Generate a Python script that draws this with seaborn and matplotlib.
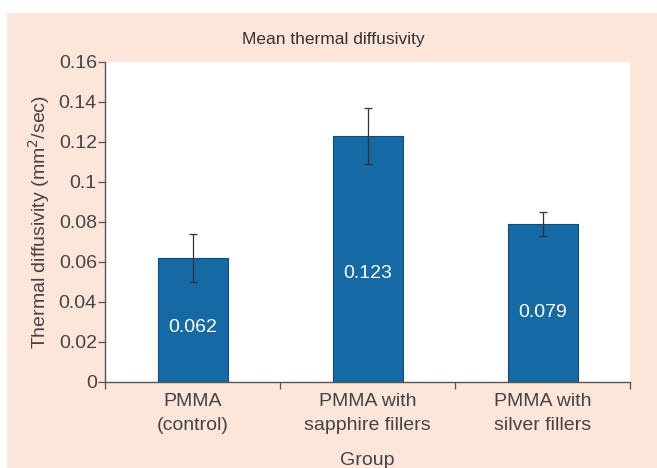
import numpy as np
import matplotlib
matplotlib.use("Agg")
import matplotlib.pyplot as plt
import matplotlib.ticker as mticker
from matplotlib.patches import Rectangle
import seaborn as sns
import pandas as pd

# values
groups = ["PMMA\n(control)", "PMMA with\nsapphire fillers", "PMMA with\nsilver fillers"]
means = [0.062, 0.123, 0.079]
errors = [0.012, 0.014, 0.006]
bar_labels = ["0.062", "0.123", "0.079"]
yticks = [0, 0.02, 0.04, 0.06, 0.08, 0.1, 0.12, 0.14, 0.16]

df = pd.DataFrame({"Group": groups, "Diffusivity": means})

sns.set_theme(style="white")
plt.rcParams["font.family"] = ["Liberation Sans", "DejaVu Sans"]

fig = plt.figure(figsize=(6.57, 4.68), dpi=100)
fig.patch.set_facecolor("white")
# peach panel behind the chart
fig.patches.append(Rectangle((7 / 657, 0), 1, 1 - 13 / 468, transform=fig.transFigure,
                             facecolor="#fde5da", edgecolor="none", zorder=-10))

ax = fig.add_axes([0.160, 0.184, 0.799, 0.684])
ax.set_facecolor("white")

sns.barplot(data=df, x="Group", y="Diffusivity", color="#1569a5", width=0.4,
            errorbar=None, saturation=1, edgecolor="#0d4f7e", linewidth=0.8, ax=ax)
ax.errorbar(np.arange(len(means)), means, yerr=errors, fmt="none",
            ecolor="#333333", elinewidth=0.9, capsize=3, capthick=0.9)

for i, (m, lab) in enumerate(zip(means, bar_labels)):
    ax.text(i, m * 0.44, lab, ha="center", va="center", color="white", fontsize=14)

ax.set_ylim(0, 0.16)
ax.set_xlim(-0.5, 2.5)
ax.set_yticks(yticks)
ax.yaxis.set_major_formatter(mticker.FormatStrFormatter("%g"))
ax.set_xticks([-0.5, 0.5, 1.5, 2.5], minor=False)
ax.set_xticklabels([])
ax.set_xticks([0, 1, 2], minor=True)
ax.set_xticklabels(groups, minor=True, fontsize=14, color="#444444", linespacing=1.55)
ax.tick_params(axis="x", which="minor", length=0, pad=8)
ax.tick_params(axis="x", which="major", length=5, width=0.9, color="#555555", direction="out")
ax.tick_params(axis="y", length=5, width=0.9, color="#555555", direction="out",
               labelsize=14, labelcolor="#444444", pad=1)
ax.tick_params(bottom=True, left=True, which="both")

for side in ["top", "right"]:
    ax.spines[side].set_visible(False)
for side in ["left", "bottom"]:
    ax.spines[side].set_color("#555555")
    ax.spines[side].set_linewidth(1.0)

ax.set_xlabel("Group", fontsize=14, color="#444444")
ax.xaxis.set_label_coords(0.5, -0.218)
ax.set_ylabel("Thermal diffusivity (mm$^2$/sec)", fontsize=14, color="#444444", labelpad=5)
fig.text(0.507, 0.915, "Mean thermal diffusivity", ha="center", va="center",
         fontsize=12.5, color="#333333")

fig.savefig("out.png", dpi=100)
